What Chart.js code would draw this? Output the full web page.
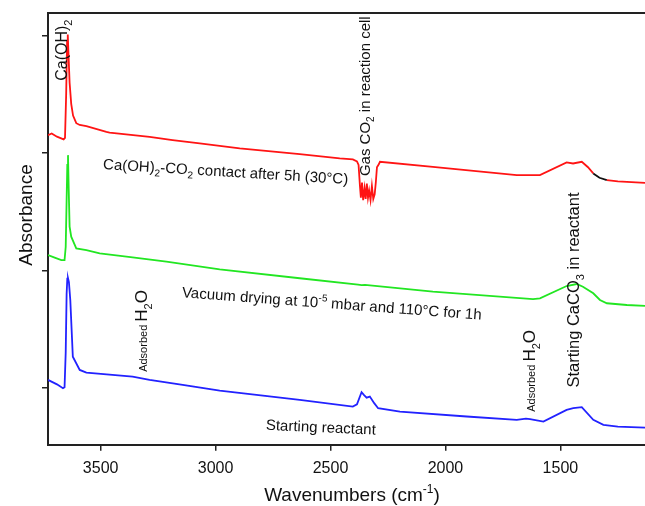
<!DOCTYPE html>
<html lang="en">
<head>
    <meta charset="UTF-8">
    <title>FTIR spectra</title>
    <script src="https://cdn.jsdelivr.net/npm/chart.js"></script>
    <style>
        body { margin: 0; background: #fff; overflow: hidden; }
        canvas { display: block; }
    </style>
</head>
<body>

<canvas id="irChart" width="645" height="506"></canvas>

<script>
    // x ticks (wavenumbers, cm-1) and the y tick positions (no labels)
    const xTicks = [3500, 3000, 2500, 2000, 1500];
    const yTicks = [0, 1, 2, 3];

    // Ca(OH)2-CO2 contact after 5h (red, top)
    const redWn  = [3729, 3713, 3690, 3661, 3655, 3650, 3646, 3643, 3640, 3635, 3628, 3620, 3606, 3591, 3562, 3475, 3461, 3287, 3187, 3069, 2895, 2634, 2460, 2403, 2385,
                    2378, 2372, 2368, 2363, 2358, 2352, 2347, 2342, 2337, 2332, 2326, 2320, 2314, 2308, 2303, 2298, 2290,
                    2285, 2055, 1690, 1589, 1473, 1445, 1407, 1380, 1357, 1330, 1298, 1250, 1132];
    const redAbs = [2.153, 2.168, 2.14, 2.117, 2.13, 2.5, 2.95, 3.01, 2.85, 2.6, 2.42, 2.32, 2.255, 2.24, 2.23, 2.181, 2.175, 2.139, 2.111, 2.083, 2.040, 1.991, 1.955, 1.946, 1.93,
                    1.90, 1.72, 1.62, 1.75, 1.60, 1.70, 1.61, 1.74, 1.62, 1.68, 1.60, 1.72, 1.61, 1.65, 1.75, 1.88, 1.905,
                    1.926, 1.883, 1.813, 1.813, 1.921, 1.912, 1.926, 1.88, 1.827, 1.79, 1.770, 1.76, 1.747];

    // Vacuum drying (green, middle)
    const greenWn  = [3729, 3700, 3671, 3657, 3652, 3648, 3645, 3642, 3639, 3635, 3628, 3606, 3562, 3504, 3361, 3214, 2982, 2634, 2380, 2365, 2350,
                      2055, 1619, 1589, 1473, 1429, 1402, 1357, 1328, 1298, 1211, 1132];
    const greenAbs = [1.132, 1.11, 1.089, 1.089, 1.2, 1.6, 1.9, 1.983, 1.7, 1.373, 1.288, 1.189, 1.174, 1.146, 1.112, 1.075, 1.010, 0.934, 0.880, 0.875, 0.877,
                      0.820, 0.757, 0.763, 0.868, 0.885, 0.862, 0.806, 0.749, 0.721, 0.706, 0.698];

    // Starting reactant (blue, bottom)
    const blueWn  = [3729, 3690, 3664, 3657, 3652, 3648, 3645, 3642, 3638, 3632, 3621, 3591, 3562, 3361, 3287, 3143, 2982, 2634, 2403, 2385, 2365, 2355,
                     2343, 2329, 2310, 2293, 2198, 1908, 1690, 1650, 1632, 1574, 1473, 1444, 1407, 1357, 1313, 1250, 1132];
    const blueAbs = [0.068, 0.03, -0.003, 0.006, 0.3, 0.8, 0.93, 0.934, 0.9, 0.749, 0.266, 0.153, 0.130, 0.096, 0.068, 0.026, -0.023, -0.102, -0.159, -0.14, -0.037, -0.06,
                     -0.083, -0.074, -0.13, -0.173, -0.202, -0.244, -0.272, -0.262, -0.266, -0.287, -0.187, -0.173, -0.164, -0.272, -0.315, -0.33, -0.338];

    const FONT = 'Arial, "Liberation Sans", Helvetica, sans-serif';
    Chart.defaults.font.family = FONT;

    // text labels: [text, size, shift] with shift 1 = subscript, -1 = superscript
    const notes = [
        { parts: [['Ca(OH)', 16], ['2', 11, 1]], wn: 3670, abs: 2.877, rot: -90 },
        { parts: [['Gas CO', 15], ['2', 10, 1], [' in reaction cell', 15]], wn: 2351, abs: 2.485, rot: -90 },
        { parts: [['Ca(OH)', 15], ['2', 10, 1], ['-CO', 15], ['2', 10, 1], [' contact after 5h (30°C)', 15]], wn: 2956, abs: 1.847, rot: 3.5 },
        { parts: [['Vacuum drying at 10', 15], ['-5', 10, -1], [' mbar and 110°C for 1h', 15]], wn: 2494, abs: 0.723, rot: 4.3 },
        { parts: [['Adsorbed ', 11], ['H', 17], ['2', 11, 1], ['O', 17]], wn: 3326, abs: 0.485, rot: -90 },
        { parts: [['Adsorbed ', 11], ['H', 17], ['2', 11, 1], ['O', 17]], wn: 1637, abs: 0.145, rot: -90 },
        { parts: [['Starting CaCO', 16.5], ['3', 11, 1], [' in reactant', 16.5]], wn: 1445, abs: 0.834, rot: -90 },
        { parts: [['Starting reactant', 15]], wn: 2542, abs: -0.332, rot: 2.5 }
    ];

    function drawRich(ctx, parts, cx, cy, rot) {
        ctx.save();
        ctx.translate(cx, cy);
        ctx.rotate(rot * Math.PI / 180);
        ctx.fillStyle = '#111';
        ctx.textAlign = 'left';
        ctx.textBaseline = 'alphabetic';
        const base = Math.max(...parts.map(p => p[1]));
        let total = 0;
        const widths = parts.map(p => {
            ctx.font = p[1] + 'px ' + FONT;
            const w = ctx.measureText(p[0]).width;
            total += w;
            return w;
        });
        let x = -total / 2;
        parts.forEach((p, i) => {
            ctx.font = p[1] + 'px ' + FONT;
            const s = p[2] || 0;
            const shift = s > 0 ? base * 0.28 : s < 0 ? -base * 0.42 : 0;
            ctx.fillText(p[0], x, base * 0.36 + shift);
            x += widths[i];
        });
        ctx.restore();
    }

    const annotate = {
        id: 'annotate',
        afterDraw(chart) {
            const { ctx, chartArea: a, scales: { x, y } } = chart;
            // top frame line (right side is cut off in the original)
            ctx.save();
            ctx.strokeStyle = '#222';
            ctx.lineWidth = 2;
            ctx.beginPath();
            ctx.moveTo(a.left, a.top);
            ctx.lineTo(a.right, a.top);
            ctx.stroke();
            ctx.restore();

            notes.forEach(n => drawRich(ctx, n.parts, x.getPixelForValue(n.wn), y.getPixelForValue(n.abs), n.rot));

            // axis titles
            drawRich(ctx, [['Wavenumbers (cm', 19], ['-1', 12, -1], [')', 19]], 352, 494, 0);
            drawRich(ctx, [['Absorbance', 19]], 25, 215, -90);
        }
    };

    const toPoints = (xs, ys) => xs.map((v, i) => ({ x: v, y: ys[i] }));

    const lineStyle = { borderWidth: 1.8, pointRadius: 0, tension: 0, fill: false };

    new Chart(document.getElementById('irChart').getContext('2d'), {
        type: 'line',
        data: {
            datasets: [
                Object.assign({
                    label: 'Ca(OH)2-CO2 contact after 5h (30°C)',
                    data: toPoints(redWn, redAbs),
                    borderColor: '#ff1414',
                    segment: {
                        borderColor: c => (c.p0.parsed.x <= 1360 && c.p1.parsed.x >= 1298) ? '#111' : undefined
                    }
                }, lineStyle),
                Object.assign({
                    label: 'Vacuum drying',
                    data: toPoints(greenWn, greenAbs),
                    borderColor: '#22e622'
                }, lineStyle),
                Object.assign({
                    label: 'Starting reactant',
                    data: toPoints(blueWn, blueAbs),
                    borderColor: '#2222ff'
                }, lineStyle)
            ]
        },
        options: {
            responsive: false,
            animation: false,
            layout: { padding: { left: 42, top: 13, right: 0, bottom: 20 } },
            plugins: { legend: { display: false }, tooltip: { enabled: false } },
            scales: {
                x: {
                    type: 'linear',
                    reverse: true,
                    min: 1132,
                    max: 3729,
                    afterBuildTicks: s => { s.ticks = xTicks.map(v => ({ value: v })); },
                    ticks: {
                        font: { size: 16 },
                        color: '#111',
                        padding: 8,
                        maxRotation: 0,
                        autoSkip: false,
                        callback: v => String(v)
                    },
                    grid: { drawOnChartArea: false, drawTicks: true, tickLength: 6, color: '#222', lineWidth: 1.5 },
                    border: { color: '#222', width: 2 }
                },
                y: {
                    min: -0.485,
                    max: 3.194,
                    afterBuildTicks: s => { s.ticks = yTicks.map(v => ({ value: v })); },
                    ticks: { display: false },
                    grid: { drawOnChartArea: false, drawTicks: true, tickLength: 6, color: '#222', lineWidth: 1.5 },
                    border: { color: '#222', width: 2 }
                }
            }
        },
        plugins: [annotate]
    });
</script>

</body>
</html>
